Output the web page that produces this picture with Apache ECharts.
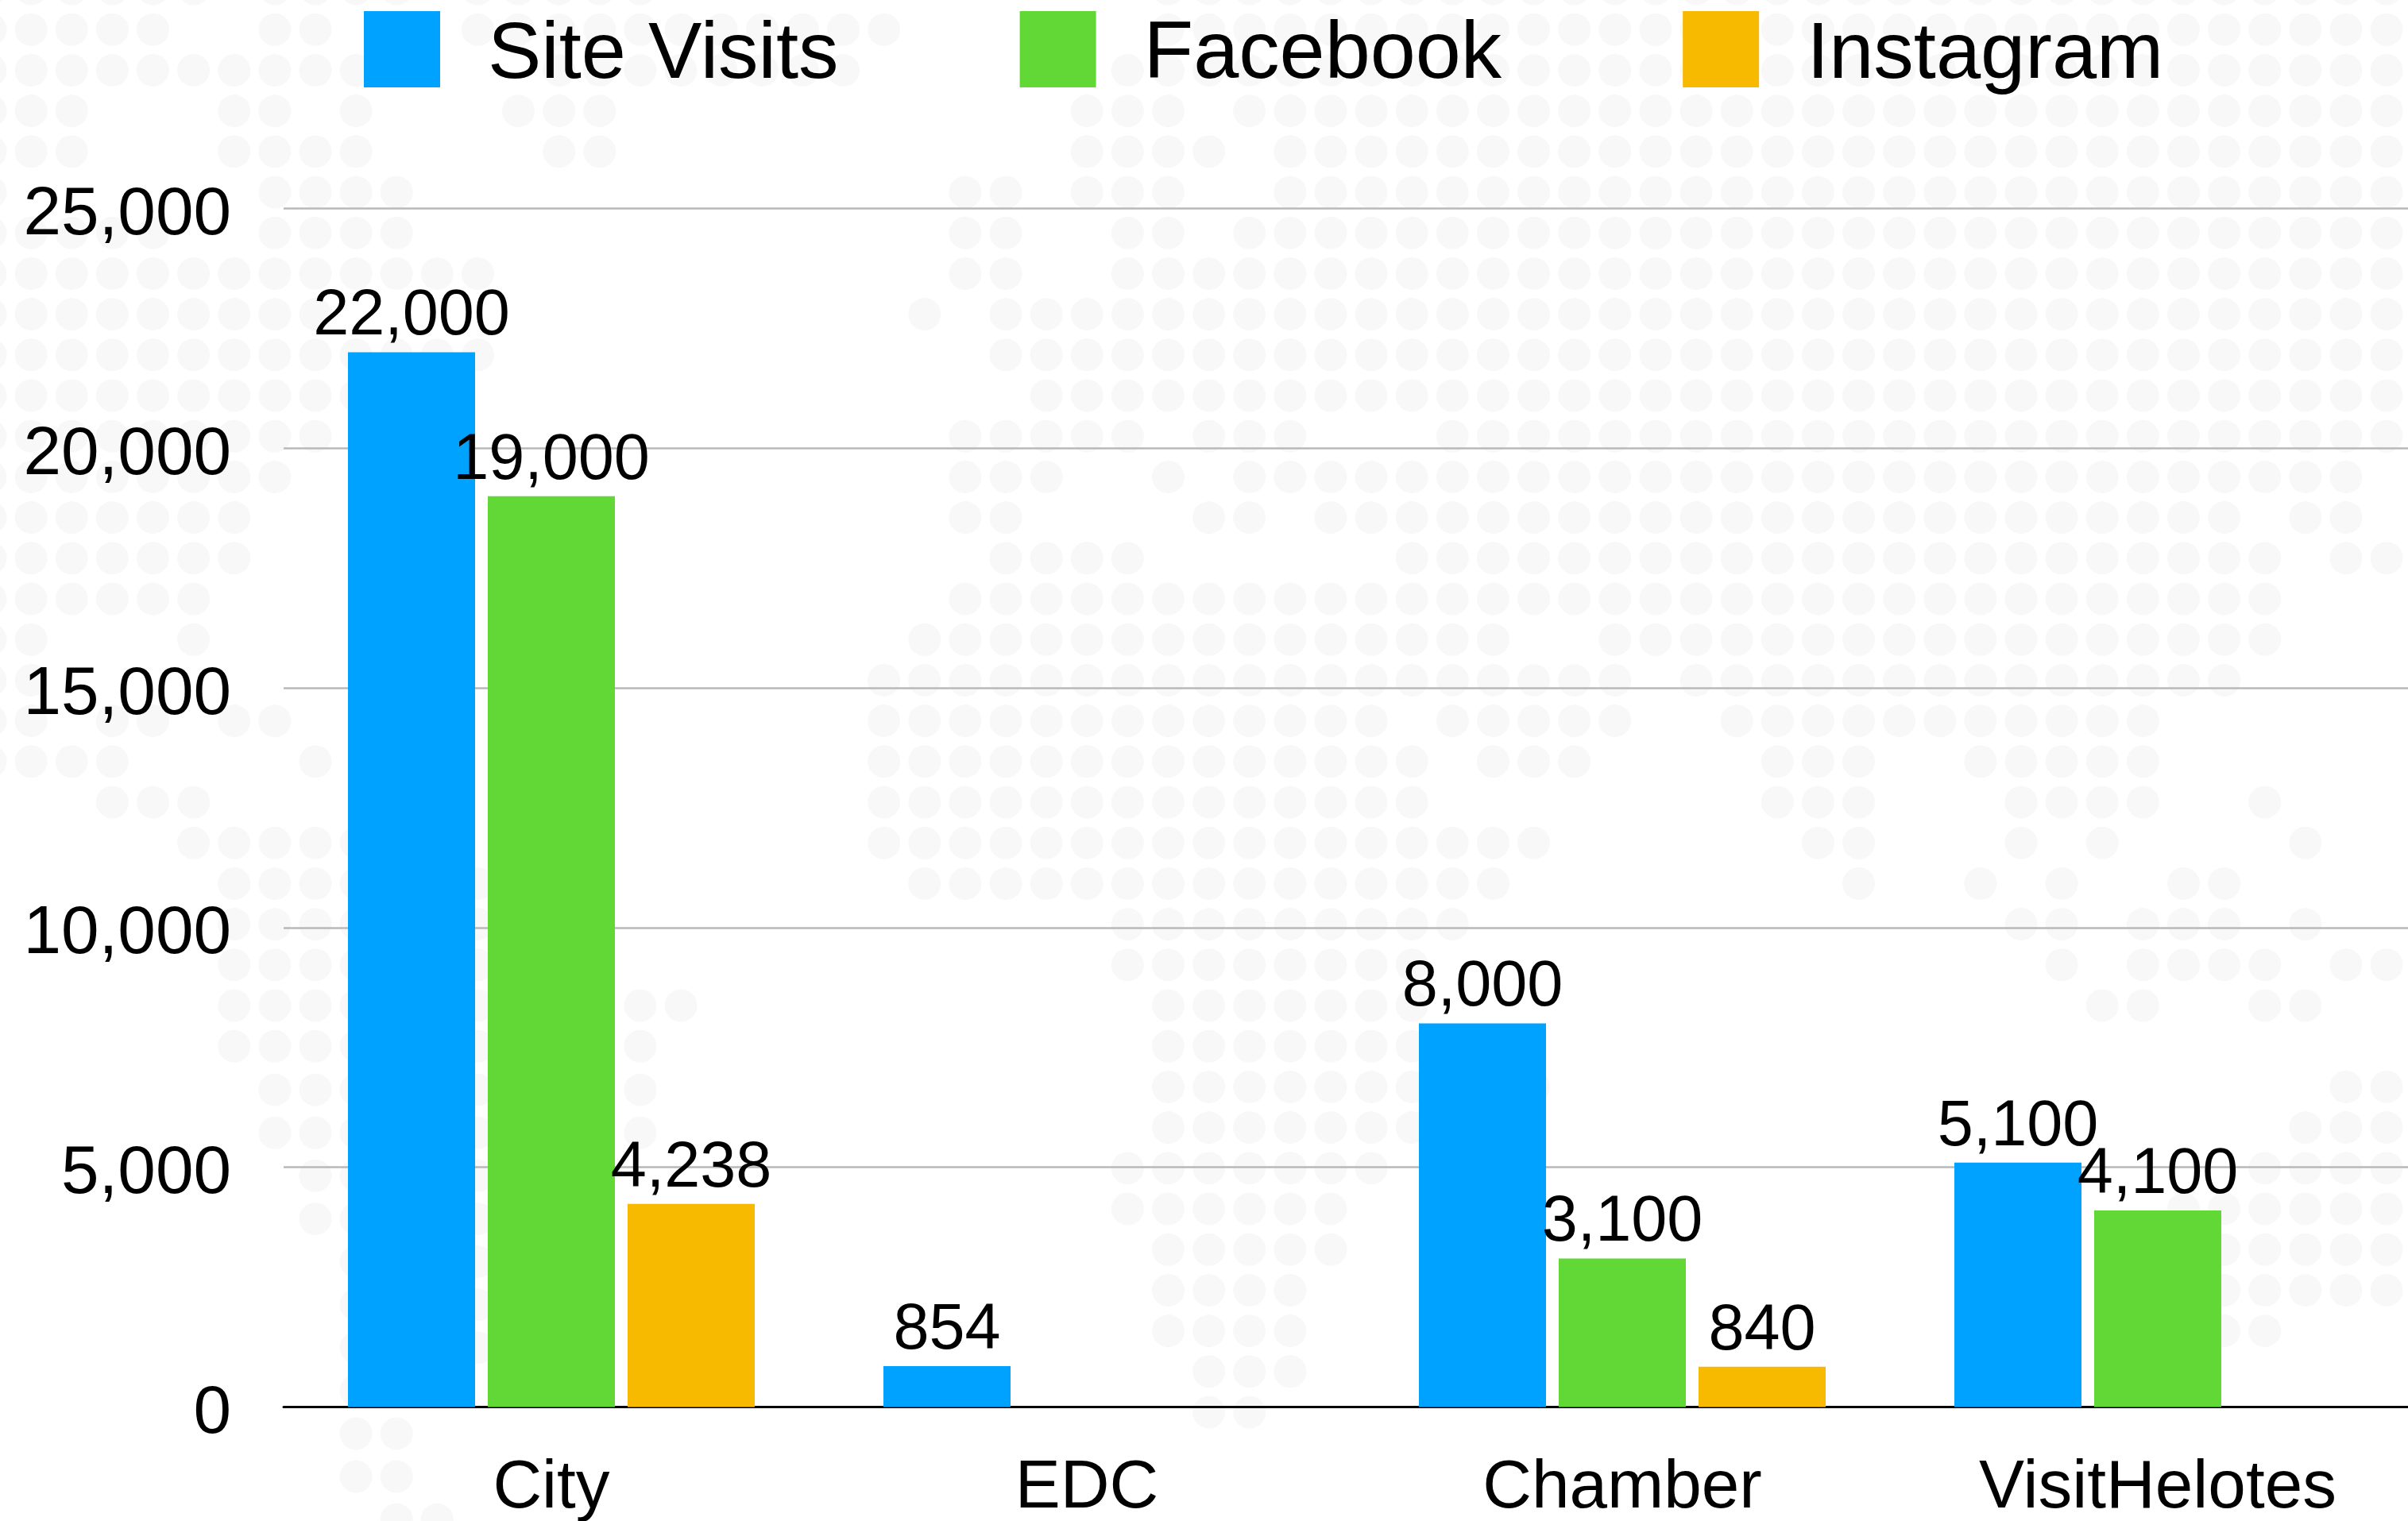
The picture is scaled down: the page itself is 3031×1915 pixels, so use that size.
<!DOCTYPE html>
<html>
<head>
<meta charset="utf-8">
<title>Site visits</title>
<style>
  html, body { margin: 0; padding: 0; background: #fff; }
  #main { width: 3031px; height: 1915px; }
</style>
<script src="https://cdn.jsdelivr.net/npm/echarts@6/dist/echarts.min.js"></script>
</head>
<body>
<div id="main"></div>
<script>
// data
var categories = ['City', 'EDC', 'Chamber', 'VisitHelotes'];
var siteVisits = [22000, 854, 8000, 5100];
var facebook = [19000, null, 3100, 4100];
var instagram = [4238, null, 840, null];

// background dot map, one entry per row, lit column ranges
var dotRows = [
  '0-5 7-10 12-16 29-59',
  '0-4 7-8 12-22 29-59',
  '0-9 14-21 28-59',
  '0-2 6-7 9 13-15 27-29 31-59',
  '0-2 6-9 14-15 27-30 32-59',
  '0 7-10 24-25 27-29 32-59',
  '0-4 7-10 24-25 28-29 31-59',
  '0-12 24-25 28-59',
  '0-8 23 25-59',
  '0-12 25-59',
  '0-9 26-59',
  '0-8 24-28 30-32 36-59',
  '0-7 24-26 29 31-58',
  '0-6 24-25 30-31 33-55 57-58',
  '0-6 25-28 35-56 58-59',
  '0-5 24-56',
  '0-1 5 23-37 40-56',
  '0-1 22-40 42-55',
  '0-1 3-4 6-7 22-34 36-40 43-53',
  '0-3 8 22-35 37-39 44-46 49-53',
  '3-5 22-35 44-46 50-53 56',
  '5-9 22-38 45-46 50 52 57',
  '6-9 12 23-37 46 49 51 54-55',
  '6-9 12 28-36 50-51 53-55 57',
  '6-9 12 28-35 51 53-56 58-59',
  '6-9 12 16-17 29-35 52-53 56-57',
  '6-9 12 16 29-35',
  '7-9 12 16 29-35 38 58-59',
  '7-9 12 16 29-35 57-59',
  '8-9 12 28-34 56-59',
  '8-9 12 28-33 54-59',
  '9 12 29-33 55-59',
  '9 12 29-32 55-59',
  '9 12 29-32 55-56',
  '9 30-32',
  '9-10 30-31',
  '9-10',
  '10-11'
];

var dots = [];
dotRows.forEach(function(row, r) {
  row.split(' ').forEach(function(range) {
    var ends = range.split('-');
    var from = +ends[0];
    var to = +(ends[1] === undefined ? ends[0] : ends[1]);
    for (var c = from; c <= to; c++) {
      // the americas block runs on a slightly wider row pitch in its lower part
      var y = (c <= 22 && r > 26) ? 1318 + 54.1 * (r - 26) : -14 + 51.2 * r;
      dots.push({
        type: 'circle',
        silent: true,
        z: -1,
        shape: { cx: -12 + 51.12 * c, cy: y, r: 20.5 },
        style: { fill: '#f8f8f8' }
      });
    }
  });
});

function thousands(v) {
  return Number(v).toLocaleString('en-US');
}

function barSeries(name, values, color) {
  return {
    name: name,
    type: 'bar',
    barWidth: 160,
    barGap: '10%',
    data: values,
    itemStyle: { color: color },
    label: {
      show: true,
      position: 'top',
      distance: 4,
      color: '#000',
      fontFamily: 'Liberation Sans',
      fontSize: 81,
      formatter: function(p) { return thousands(p.value); }
    }
  };
}

// legend text sits a little below the swatch centre, Facebook runs a touch wider
function legendStyle(size) {
  return {
    color: '#000',
    fontFamily: 'Liberation Sans',
    fontSize: size,
    padding: [16, 0, 0, 55]
  };
}

var chart = echarts.init(document.getElementById('main'), null, { renderer: 'canvas' });
chart.setOption({
  animation: false,
  backgroundColor: '#fff',
  graphic: { elements: dots },
  legend: {
    left: 453,
    top: 9,
    icon: 'rect',
    itemWidth: 96,
    itemHeight: 96,
    itemGap: 228,
    selectedMode: false,
    formatter: function(name) {
      return '{' + (name === 'Facebook' ? 'wide' : 'normal') + '|' + name + '}';
    },
    textStyle: {
      rich: {
        normal: legendStyle(101),
        wide: legendStyle(102.6)
      }
    },
    data: ['Site Visits', 'Facebook', 'Instagram']
  },
  grid: {
    left: 357,
    top: 262.5,
    width: 2696,
    height: 1509,
    outerBoundsMode: 'none',
    containLabel: false
  },
  xAxis: {
    type: 'category',
    data: categories,
    axisTick: { show: false },
    axisLine: { lineStyle: { color: '#000', width: 3 } },
    axisLabel: {
      color: '#000',
      fontFamily: 'Liberation Sans',
      fontSize: 85.5,
      margin: 60
    }
  },
  yAxis: {
    type: 'value',
    min: 0,
    max: 25000,
    interval: 5000,
    axisLine: { show: false },
    axisTick: { show: false },
    splitLine: { lineStyle: { color: '#b9b9b9', width: 2.5 } },
    axisLabel: {
      margin: 66,
      formatter: function(v) { return '{v|' + thousands(v) + '}'; },
      rich: {
        v: {
          color: '#000',
          fontFamily: 'Liberation Sans',
          fontSize: 85.5,
          padding: [18, 0, 0, 0]
        }
      }
    }
  },
  series: [
    barSeries('Site Visits', siteVisits, '#00a2ff'),
    barSeries('Facebook', facebook, '#61d836'),
    barSeries('Instagram', instagram, '#f8ba00')
  ]
});
</script>
</body>
</html>
